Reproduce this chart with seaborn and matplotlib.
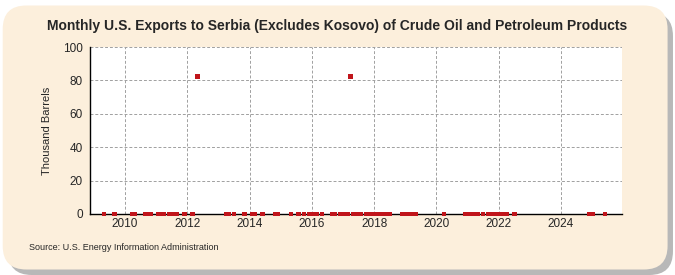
import pandas as pd
import numpy as np
import matplotlib
matplotlib.use('Agg')
import matplotlib.pyplot as plt
import matplotlib.dates as mdates
from matplotlib.patches import FancyBboxPatch
import seaborn as sns

# months with reported exports (thousand barrels)
months = [
    '2009-05', '2009-09',
    '2010-04', '2010-05', '2010-09', '2010-10', '2010-11',
    '2011-02', '2011-04', '2011-06', '2011-07', '2011-08', '2011-09', '2011-12',
    '2012-03', '2012-05',
    '2013-04', '2013-05', '2013-07', '2013-11',
    '2014-02', '2014-03', '2014-06', '2014-11', '2014-12',
    '2015-05', '2015-08', '2015-10', '2015-12',
    '2016-01', '2016-02', '2016-03', '2016-05', '2016-09', '2016-10', '2016-12',
    '2017-01', '2017-02', '2017-03', '2017-04', '2017-05', '2017-06', '2017-07',
    '2017-08', '2017-10', '2017-11', '2017-12',
    '2018-01', '2018-02', '2018-03', '2018-04', '2018-05', '2018-06', '2018-07', '2018-12',
    '2019-01', '2019-02', '2019-03', '2019-04', '2019-05',
    '2020-04',
    '2020-12', '2021-01', '2021-03', '2021-04', '2021-05', '2021-07', '2021-09',
    '2021-10', '2021-11', '2022-01', '2022-02', '2022-04', '2022-07',
    '2024-12', '2025-01', '2025-06',
]
big_months = {'2012-05': 82.5, '2017-04': 82.5}
values = [big_months.get(m, 0.0) for m in months]

year_ticks = [2010, 2012, 2014, 2016, 2018, 2020, 2022, 2024]
y_ticks = [0, 20, 40, 60, 80, 100]

df = pd.DataFrame({'date': pd.to_datetime(months), 'value': values})

sns.set_style('white')
plt.rcParams['font.family'] = ['Liberation Sans', 'DejaVu Sans']

fig = plt.figure(figsize=(6.75, 2.75), dpi=100)
fig.patch.set_facecolor('white')

# rounded beige panel with shadow
shadow = FancyBboxPatch((0.012, 0.0), 0.985, 0.955, boxstyle='round,pad=0,rounding_size=0.035',
                        transform=fig.transFigure, facecolor='#b8b8b8', edgecolor='none',
                        mutation_aspect=675 / 275, zorder=-2)
panel = FancyBboxPatch((0.004, 0.02), 0.985, 0.96, boxstyle='round,pad=0,rounding_size=0.035',
                       transform=fig.transFigure, facecolor='#fcefdc', edgecolor='none',
                       mutation_aspect=675 / 275, zorder=-1)
fig.patches.extend([shadow, panel])

ax = fig.add_axes([0.133, 0.222, 0.789, 0.607])
ax.set_zorder(1)
ax.set_facecolor('white')

sns.scatterplot(data=df, x='date', y='value', ax=ax, marker='s', s=11,
                color='#c0151b', edgecolor='none', zorder=5, clip_on=False)

ax.set_xlim(pd.Timestamp('2008-11-15'), pd.Timestamp('2025-12-20'))
ax.set_ylim(0, 100)
ax.set_xticks([pd.Timestamp(f'{y}-01-01') for y in year_ticks])
ax.xaxis.set_major_formatter(mdates.DateFormatter('%Y'))
ax.set_yticks(y_ticks)

ax.grid(True, axis='both', color='#a0a0a0', linestyle=(0, (3, 2)), linewidth=0.7)
for s in ['top', 'right']:
    ax.spines[s].set_visible(False)
ax.spines['left'].set_color('black')
ax.spines['bottom'].set_color('black')
ax.spines['left'].set_linewidth(1.0)
ax.spines['bottom'].set_linewidth(1.0)
ax.tick_params(axis='y', length=4, width=0.8, color='black', labelsize=8.5, pad=1)
ax.tick_params(axis='x', length=0, labelsize=8.5, pad=3)
ax.set_xlabel('')
ax.set_ylabel('Thousand Barrels', fontsize=8, labelpad=8)

fig.text(0.5, 0.905, 'Monthly U.S. Exports to Serbia (Excludes Kosovo) of Crude Oil and Petroleum Products',
         ha='center', va='center', fontsize=10, fontweight='bold',
         family=['Liberation Sans Narrow', 'Liberation Sans', 'DejaVu Sans'])
fig.text(0.043, 0.1, 'Source: U.S. Energy Information Administration', ha='left', va='center', fontsize=6.5)

fig.savefig('out.png', dpi=100)
